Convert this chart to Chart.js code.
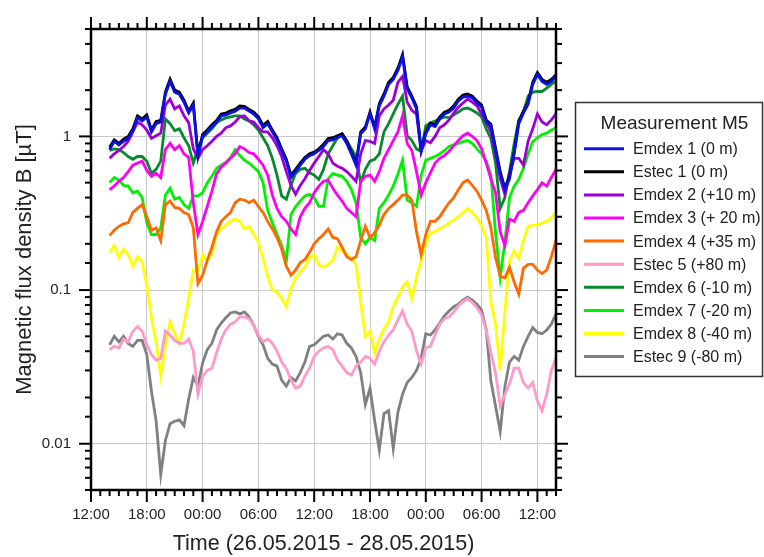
<!DOCTYPE html>
<html>
<head>
<meta charset="utf-8">
<script src="https://cdn.jsdelivr.net/npm/chart.js@4.4.1/dist/chart.umd.min.js"></script>
<style>
  html, body { margin: 0; padding: 0; background: #fff; }
</style>
</head>
<body>
<canvas id="fluxChart" width="764" height="557"></canvas>
<script>
// Half-hourly readings, 26.05.2015 14:00 -> 28.05.2015 14:00, in µT
const firstHour = 14;      // hours after 26.05.2015 00:00
const stepHours = 0.5;

const emdex1 = [0.82, 0.93, 0.88, 0.93, 0.97, 1.09, 1.32, 1.26, 1.34, 1.07,
  1.21, 1.24, 1.88, 2.28, 1.94, 1.88, 1.67, 1.42, 1.6, 0.74,
  1.0, 1.07, 1.16, 1.23, 1.36, 1.38, 1.42, 1.46, 1.53, 1.53,
  1.46, 1.4, 1.3, 1.14, 1.21, 1.07, 0.95, 0.81, 0.69, 0.54,
  0.59, 0.65, 0.71, 0.75, 0.77, 0.81, 0.86, 0.94, 0.95, 0.98,
  1.01, 0.9, 0.77, 0.65, 1.04, 1.12, 1.4, 1.12, 1.58, 1.83,
  2.18, 2.35, 2.69, 3.3, 2.03, 1.78, 1.51, 0.8, 1.04, 1.19,
  1.16, 1.3, 1.4, 1.44, 1.53, 1.7, 1.8, 1.83, 1.78, 1.65,
  1.55, 1.24, 1.17, 0.81, 0.575, 0.45, 0.53, 0.77, 1.21, 1.42,
  1.62, 2.18, 2.53, 2.28, 2.18, 2.28, 2.46];

const estec1 = [0.85, 0.95, 0.9, 0.96, 1.0, 1.12, 1.36, 1.3, 1.38, 1.1,
  1.25, 1.27, 1.94, 2.36, 2.0, 1.94, 1.72, 1.46, 1.65, 0.76,
  1.03, 1.1, 1.19, 1.27, 1.4, 1.42, 1.47, 1.5, 1.58, 1.57,
  1.5, 1.44, 1.34, 1.18, 1.25, 1.1, 0.98, 0.83, 0.71, 0.56,
  0.61, 0.67, 0.73, 0.77, 0.79, 0.83, 0.89, 0.97, 0.98, 1.01,
  1.04, 0.93, 0.79, 0.67, 1.07, 1.15, 1.44, 1.15, 1.63, 1.89,
  2.25, 2.42, 2.78, 3.4, 2.1, 1.83, 1.56, 0.82, 1.07, 1.22,
  1.19, 1.34, 1.44, 1.48, 1.58, 1.75, 1.86, 1.89, 1.83, 1.7,
  1.6, 1.28, 1.2, 0.84, 0.59, 0.46, 0.55, 0.79, 1.25, 1.46,
  1.67, 2.25, 2.6, 2.35, 2.25, 2.35, 2.52];

const emdex2 = [0.72, 0.77, 0.81, 0.86, 0.93, 1.07, 1.24, 1.19, 1.1, 0.97,
  1.01, 1.05, 1.6, 1.75, 1.51, 1.58, 1.36, 1.23, 0.83, 0.72,
  0.82, 0.87, 0.93, 1.0, 1.05, 1.14, 1.17, 1.24, 1.34, 1.36,
  1.26, 1.24, 1.14, 1.07, 1.07, 0.98, 0.87, 0.74, 0.59, 0.48,
  0.42, 0.48, 0.53, 0.6, 0.67, 0.74, 0.82, 0.77, 0.67, 0.64,
  0.62, 0.59, 0.55, 0.51, 0.77, 0.94, 0.93, 0.9, 1.36, 1.51,
  1.6, 1.72, 2.25, 2.46, 1.67, 1.48, 1.4, 0.8, 0.94, 0.91,
  1.0, 1.14, 1.19, 1.28, 1.42, 1.55, 1.65, 1.75, 1.67, 1.58,
  1.4, 1.24, 1.07, 0.77, 0.53, 0.42, 0.575, 0.72, 0.72, 0.65,
  0.93, 1.12, 1.4, 1.24, 1.19, 1.28, 1.4];

const emdex3 = [0.45, 0.475, 0.51, 0.54, 0.59, 0.65, 0.67, 0.69, 0.6, 0.55,
  0.575, 0.54, 0.82, 0.9, 0.82, 0.87, 0.77, 0.73, 0.37, 0.23,
  0.28, 0.35, 0.44, 0.57, 0.63, 0.67, 0.72, 0.77, 0.86, 0.83,
  0.785, 0.77, 0.71, 0.65, 0.56, 0.415, 0.34, 0.3, 0.28, 0.25,
  0.23, 0.3, 0.34, 0.37, 0.43, 0.475, 0.51, 0.52, 0.46, 0.415,
  0.38, 0.34, 0.32, 0.3, 0.51, 0.55, 0.56, 0.51, 0.59, 0.72,
  0.82, 0.94, 1.07, 1.36, 0.9, 0.81, 0.59, 0.415, 0.5, 0.58,
  0.67, 0.72, 0.75, 0.8, 0.87, 0.94, 1.01, 1.05, 1.0, 0.94,
  0.83, 0.67, 0.53, 0.43, 0.24, 0.195, 0.29, 0.28, 0.32, 0.33,
  0.37, 0.41, 0.45, 0.5, 0.475, 0.54, 0.61];

const emdex4 = [0.226, 0.245, 0.26, 0.27, 0.274, 0.32, 0.34, 0.36, 0.3, 0.245,
  0.254, 0.21, 0.36, 0.38, 0.345, 0.34, 0.32, 0.31, 0.254, 0.11,
  0.125, 0.156, 0.19, 0.24, 0.28, 0.3, 0.32, 0.37, 0.39, 0.385,
  0.37, 0.385, 0.35, 0.32, 0.28, 0.25, 0.22, 0.185, 0.143, 0.125,
  0.135, 0.151, 0.158, 0.176, 0.2, 0.216, 0.23, 0.25, 0.22, 0.216,
  0.19, 0.165, 0.158, 0.165, 0.21, 0.26, 0.22, 0.236, 0.265, 0.31,
  0.34, 0.36, 0.385, 0.415, 0.415, 0.385, 0.24, 0.17, 0.23, 0.28,
  0.28, 0.3, 0.335, 0.37, 0.4, 0.45, 0.5, 0.52, 0.48, 0.44,
  0.385, 0.33, 0.254, 0.163, 0.123, 0.12, 0.141, 0.113, 0.094, 0.139,
  0.147, 0.147, 0.135, 0.128, 0.135, 0.165, 0.21];

const estec5 = [0.041, 0.043, 0.042, 0.048, 0.046, 0.054, 0.058, 0.054, 0.044, 0.038,
  0.035, 0.036, 0.054, 0.051, 0.047, 0.045, 0.045, 0.048, 0.04, 0.021,
  0.0275, 0.03, 0.031, 0.039, 0.048, 0.055, 0.06, 0.062, 0.067, 0.067,
  0.065, 0.059, 0.051, 0.046, 0.048, 0.045, 0.04, 0.034, 0.031, 0.026,
  0.023, 0.0237, 0.0275, 0.031, 0.037, 0.04, 0.042, 0.043, 0.041, 0.035,
  0.032, 0.029, 0.028, 0.032, 0.034, 0.037, 0.036, 0.033, 0.04, 0.046,
  0.051, 0.055, 0.064, 0.073, 0.06, 0.054, 0.04, 0.033, 0.042, 0.043,
  0.051, 0.06, 0.065, 0.067, 0.072, 0.079, 0.084, 0.088, 0.083, 0.077,
  0.069, 0.055, 0.039, 0.029, 0.0176, 0.021, 0.0245, 0.031, 0.031, 0.025,
  0.023, 0.025, 0.019, 0.0164, 0.021, 0.03, 0.036];

const emdex6 = [0.81, 0.83, 0.82, 0.785, 0.74, 0.71, 0.74, 0.74, 0.69, 0.575,
  0.61, 0.69, 1.3, 1.21, 1.09, 1.12, 0.98, 0.87, 0.67, 0.83,
  0.98, 1.05, 1.12, 1.225, 1.28, 1.32, 1.34, 1.36, 1.36, 1.3,
  1.26, 1.19, 1.1, 0.98, 0.87, 0.72, 0.56, 0.41, 0.39, 0.48,
  0.575, 0.61, 0.62, 0.58, 0.56, 0.525, 0.61, 0.77, 0.87, 0.98,
  1.04, 0.94, 0.83, 0.74, 0.5, 0.61, 0.69, 0.71, 0.77, 1.07,
  1.21, 1.4, 1.62, 1.83, 1.01, 0.94, 0.83, 0.8, 1.17, 1.225,
  1.26, 1.3, 1.34, 1.32, 1.38, 1.44, 1.51, 1.53, 1.48, 1.42,
  1.34, 1.12, 0.97, 0.67, 0.34, 0.4, 0.59, 0.9, 1.28, 1.44,
  1.83, 1.94, 1.96, 1.96, 2.06, 2.18, 2.28];

const emdex7 = [0.5, 0.54, 0.52, 0.48, 0.475, 0.43, 0.44, 0.4, 0.274, 0.23,
  0.23, 0.254, 0.415, 0.46, 0.39, 0.4, 0.36, 0.34, 0.41, 0.41,
  0.43, 0.5, 0.55, 0.62, 0.65, 0.68, 0.73, 0.82, 0.75, 0.7,
  0.67, 0.63, 0.59, 0.5, 0.33, 0.274, 0.23, 0.195, 0.155, 0.31,
  0.35, 0.38, 0.41, 0.42, 0.4, 0.35, 0.35, 0.53, 0.575, 0.56,
  0.55, 0.51, 0.45, 0.37, 0.22, 0.2, 0.22, 0.21, 0.34, 0.37,
  0.415, 0.475, 0.57, 0.7, 0.385, 0.37, 0.35, 0.56, 0.7, 0.72,
  0.74, 0.77, 0.81, 0.86, 0.88, 0.9, 0.925, 0.94, 0.9, 0.83,
  0.77, 0.69, 0.56, 0.236, 0.121, 0.204, 0.4, 0.475, 0.525, 0.62,
  0.77, 0.925, 0.98, 1.03, 1.05, 1.1, 1.14];

const emdex8 = [0.176, 0.195, 0.163, 0.185, 0.17, 0.143, 0.165, 0.153, 0.108, 0.066,
  0.046, 0.0275, 0.044, 0.062, 0.052, 0.045, 0.06, 0.088, 0.135, 0.131,
  0.17, 0.156, 0.17, 0.23, 0.25, 0.265, 0.28, 0.29, 0.28, 0.25,
  0.26, 0.23, 0.204, 0.16, 0.123, 0.1, 0.097, 0.088, 0.078, 0.102,
  0.12, 0.131, 0.141, 0.163, 0.17, 0.145, 0.141, 0.147, 0.156, 0.19,
  0.18, 0.17, 0.16, 0.147, 0.084, 0.05, 0.054, 0.039, 0.048, 0.056,
  0.062, 0.078, 0.09, 0.105, 0.113, 0.088, 0.121, 0.156, 0.2, 0.236,
  0.24, 0.25, 0.26, 0.274, 0.285, 0.3, 0.32, 0.34, 0.32, 0.295,
  0.26, 0.219, 0.084, 0.06, 0.03, 0.072, 0.156, 0.18, 0.16, 0.21,
  0.26, 0.265, 0.265, 0.274, 0.28, 0.295, 0.32];

const estec9 = [0.044, 0.05, 0.046, 0.05, 0.045, 0.043, 0.047, 0.047, 0.038, 0.022,
  0.0141, 0.0063, 0.0105, 0.0135, 0.014, 0.0143, 0.0131, 0.0195, 0.027, 0.0237,
  0.0335, 0.041, 0.045, 0.055, 0.061, 0.066, 0.071, 0.072, 0.07, 0.072,
  0.067, 0.059, 0.05, 0.044, 0.036, 0.033, 0.032, 0.026, 0.0237, 0.027,
  0.0256, 0.029, 0.034, 0.043, 0.044, 0.047, 0.05, 0.051, 0.048, 0.052,
  0.051, 0.045, 0.042, 0.037, 0.029, 0.018, 0.023, 0.0141, 0.0091, 0.0157,
  0.0164, 0.0093, 0.016, 0.021, 0.025, 0.027, 0.03, 0.036, 0.052, 0.051,
  0.055, 0.061, 0.068, 0.073, 0.078, 0.081, 0.086, 0.09, 0.086, 0.081,
  0.074, 0.055, 0.0256, 0.0176, 0.012, 0.0235, 0.034, 0.037, 0.035, 0.043,
  0.05, 0.057, 0.053, 0.052, 0.055, 0.06, 0.07];

const seriesLabels = ['Emdex 1 (0 m)', 'Estec 1 (0 m)', 'Emdex 2 (+10 m)', 'Emdex 3 (+ 20 m)',
  'Emdex 4 (+35 m)', 'Estec 5 (+80 m)', 'Emdex 6 (-10 m)', 'Emdex 7 (-20 m)',
  'Emdex 8 (-40 m)', 'Estec 9 (-80 m)'];
const seriesValues = [emdex1, estec1, emdex2, emdex3, emdex4, estec5, emdex6, emdex7, emdex8, estec9];
const seriesColors = ['#0a10e6', '#000000', '#9d00d2', '#ff00f5', '#ff6a00',
  '#ff99cc', '#078a2c', '#00f000', '#ffff00', '#808080'];

// x axis: hours after 26.05 00:00, labelled every 6 h
const xTickLabels = ['12:00', '18:00', '00:00', '06:00', '12:00', '18:00', '00:00', '06:00', '12:00'];
const yTickLabels = { '-2': '0.01', '-1': '0.1', '0': '1' };
const legendTitle = 'Measurement M5';

const FONT = '"Liberation Sans", Arial, sans-serif';
const TEXT = '#222';
const GRID = '#c8c8c8';

Chart.defaults.font.family = FONT;

const isDecade = v => Math.abs(Math.log10(v) - Math.round(Math.log10(v))) < 1e-6;
const isSixHour = v => Math.abs((v - 12) % 6) < 1e-9;

const datasets = seriesValues.map((vals, i) => ({
  label: seriesLabels[i],
  data: vals.map((v, k) => ({ x: firstHour + k * stepHours, y: v })),
  borderColor: seriesColors[i],
  backgroundColor: seriesColors[i],
  borderWidth: 2.8,
  pointRadius: 0,
  tension: 0
}));

// black frame round the plot, ticks pointing outwards on all four sides
const framePlugin = {
  id: 'frame',
  afterDraw(chart) {
    const { ctx, chartArea: a, scales: { x, y } } = chart;
    const seg = (x1, y1, x2, y2) => {
      ctx.beginPath(); ctx.moveTo(x1, y1); ctx.lineTo(x2, y2); ctx.stroke();
    };
    ctx.save();
    ctx.strokeStyle = '#000';
    ctx.lineWidth = 2;
    x.ticks.forEach(t => {
      const px = x.getPixelForValue(t.value);
      const len = isSixHour(t.value) ? 12 : 6;
      seg(px, a.bottom, px, a.bottom + len);
      seg(px, a.top, px, a.top - len);
    });
    y.ticks.forEach(t => {
      const py = y.getPixelForValue(t.value);
      const len = isDecade(t.value) ? 12 : 6;
      seg(a.left, py, a.left - len, py);
      seg(a.right, py, a.right + len, py);
    });
    ctx.lineWidth = 2.5;
    ctx.strokeRect(a.left, a.top, a.right - a.left, a.bottom - a.top);
    ctx.restore();
  }
};

// boxed legend to the right of the plot
const legendBox = {
  id: 'legendBox',
  afterDraw(chart) {
    const { ctx } = chart;
    ctx.save();
    ctx.strokeStyle = '#333';
    ctx.lineWidth = 1.5;
    ctx.strokeRect(575.5, 102.5, 187, 274);
    ctx.fillStyle = TEXT;
    ctx.textBaseline = 'middle';
    ctx.textAlign = 'center';
    ctx.font = '19px ' + FONT;
    ctx.fillText(legendTitle, 674.5, 124);
    ctx.textAlign = 'left';
    ctx.font = '16px ' + FONT;
    chart.data.datasets.forEach((ds, i) => {
      const yy = 148.7 + i * 23.1;
      ctx.strokeStyle = ds.borderColor;
      ctx.lineWidth = 3;
      ctx.beginPath(); ctx.moveTo(584, yy); ctx.lineTo(624, yy); ctx.stroke();
      ctx.fillText(ds.label, 633, yy + 1);
    });
    ctx.restore();
  }
};

new Chart(document.getElementById('fluxChart'), {
  type: 'line',
  data: { datasets },
  options: {
    responsive: false,
    animation: false,
    layout: { padding: { left: 0, top: 24, right: 208, bottom: 0 } },
    plugins: { legend: { display: false }, tooltip: { enabled: false } },
    scales: {
      x: {
        type: 'linear',
        min: 12,
        max: 62,
        afterFit: s => { s.height = 67; },
        border: { display: false },
        grid: {
          drawTicks: false,
          lineWidth: 1,
          color: c => (c.tick && isSixHour(c.tick.value) ? GRID : 'rgba(0,0,0,0)')
        },
        ticks: {
          stepSize: 1,
          autoSkip: false,
          maxRotation: 0,
          minRotation: 0,
          padding: 16,
          color: TEXT,
          font: { size: 15 },
          callback: v => (isSixHour(v) ? xTickLabels[Math.round((v - 12) / 6)] : '')
        },
        title: {
          display: true,
          text: 'Time (26.05.2015 - 28.05.2015)',
          color: TEXT,
          font: { size: 21.5 },
          padding: { top: 0, bottom: 0 }
        }
      },
      y: {
        type: 'logarithmic',
        min: 0.005,
        max: 5,
        afterFit: s => { s.width = 91; },
        border: { display: false },
        grid: {
          drawTicks: false,
          lineWidth: 1,
          color: c => (c.tick && isDecade(c.tick.value) ? GRID : 'rgba(0,0,0,0)')
        },
        ticks: {
          autoSkip: false,
          padding: 20,
          color: TEXT,
          font: { size: 15 },
          callback: v => (isDecade(v) ? (yTickLabels[String(Math.round(Math.log10(v)))] || '') : '')
        },
        title: {
          display: true,
          text: 'Magnetic flux density B [µT]',
          color: TEXT,
          font: { size: 22 },
          padding: { top: 12, bottom: 0 }
        }
      }
    }
  },
  plugins: [framePlugin, legendBox]
});
</script>
</body>
</html>
